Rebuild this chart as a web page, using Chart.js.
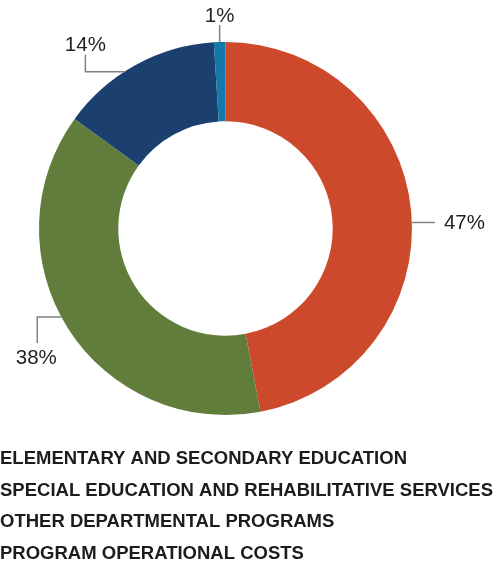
<!DOCTYPE html>
<html>
<head>
<meta charset="utf-8">
<script src="https://cdn.jsdelivr.net/npm/chart.js@4/dist/chart.umd.min.js"></script>
<style>
  html, body { margin: 0; padding: 0; background: #ffffff; }
  #wrap { width: 503px; height: 569px; position: relative; }
</style>
</head>
<body>
<div id="wrap"><canvas id="c" width="503" height="569"></canvas></div>
<script>
const categories = [
  "ELEMENTARY AND SECONDARY EDUCATION",
  "SPECIAL EDUCATION AND REHABILITATIVE SERVICES",
  "OTHER DEPARTMENTAL PROGRAMS",
  "PROGRAM OPERATIONAL COSTS"
];
const shares = [47, 38, 14, 1];
const shareLabels = ["47%", "38%", "14%", "1%"];
const sliceColors = ["#cc4a2b", "#617d3b", "#1b406f", "#1479a9"];

const labelPlugin = {
  id: 'leaderLabels',
  afterDatasetsDraw(chart, args, opts) {
    const ctx = chart.ctx;
    const meta = chart.getDatasetMeta(0);
    ctx.save();
    meta.data.forEach((arc, i) => {
      const st = opts.styles[i];
      const p = arc.getProps(['x', 'y', 'startAngle', 'endAngle', 'outerRadius'], true);
      const a = p.startAngle + (p.endAngle - p.startAngle) * st.frac;
      const ax = p.x + Math.cos(a) * p.outerRadius;
      const ay = p.y + Math.sin(a) * p.outerRadius;
      ctx.strokeStyle = opts.lineColor;
      ctx.lineWidth = opts.lineWidth;
      ctx.beginPath();
      ctx.moveTo(ax, ay);
      let x = ax, y = ay;
      st.path.forEach(seg => { x += seg[0]; y += seg[1]; ctx.lineTo(x, y); });
      ctx.stroke();
      ctx.fillStyle = opts.color;
      ctx.font = opts.font;
      ctx.textAlign = st.align;
      ctx.textBaseline = 'middle';
      ctx.fillText(shareLabels[i], x + st.text[0], y + st.text[1]);
    });
    ctx.restore();
  }
};

const legendPlugin = {
  id: 'textLegend',
  afterDraw(chart, args, opts) {
    const ctx = chart.ctx;
    ctx.save();
    ctx.fillStyle = opts.color;
    ctx.font = opts.font;
    ctx.textAlign = 'left';
    ctx.textBaseline = 'middle';
    chart.data.labels.forEach((t, i) => {
      ctx.fillText(t, opts.x, opts.y + i * opts.step);
    });
    ctx.restore();
  }
};

new Chart(document.getElementById('c'), {
  type: 'doughnut',
  data: {
    labels: categories,
    datasets: [{
      data: shares,
      backgroundColor: sliceColors,
      borderWidth: 0,
      hoverOffset: 0
    }]
  },
  options: {
    responsive: false,
    animation: false,
    cutout: '57.5%',
    rotation: 0,
    layout: { padding: { left: 39, right: 91, top: 42, bottom: 154 } },
    plugins: {
      legend: { display: false },
      tooltip: { enabled: false },
      leaderLabels: {
        color: '#231f20',
        lineColor: '#808080',
        lineWidth: 1.5,
        font: '20.5px "Liberation Sans", Arial, sans-serif',
        styles: [
          { frac: 0.521, path: [[23, 0]], text: [9, 1], align: 'left' },
          { frac: 0.53, path: [[-24, 0], [0, 26]], text: [-1, 15], align: 'center' },
          { frac: 0.42, path: [[-39, 0], [0, -17]], text: [0, -9], align: 'center' },
          { frac: 0.5, path: [[0, -17]], text: [0, -9], align: 'center' }
        ]
      },
      textLegend: {
        color: '#1e1b1c',
        font: 'bold 18.5px "Liberation Sans", Arial, sans-serif',
        x: 0, y: 459, step: 31.7
      }
    }
  },
  plugins: [labelPlugin, legendPlugin]
});
</script>
</body>
</html>
